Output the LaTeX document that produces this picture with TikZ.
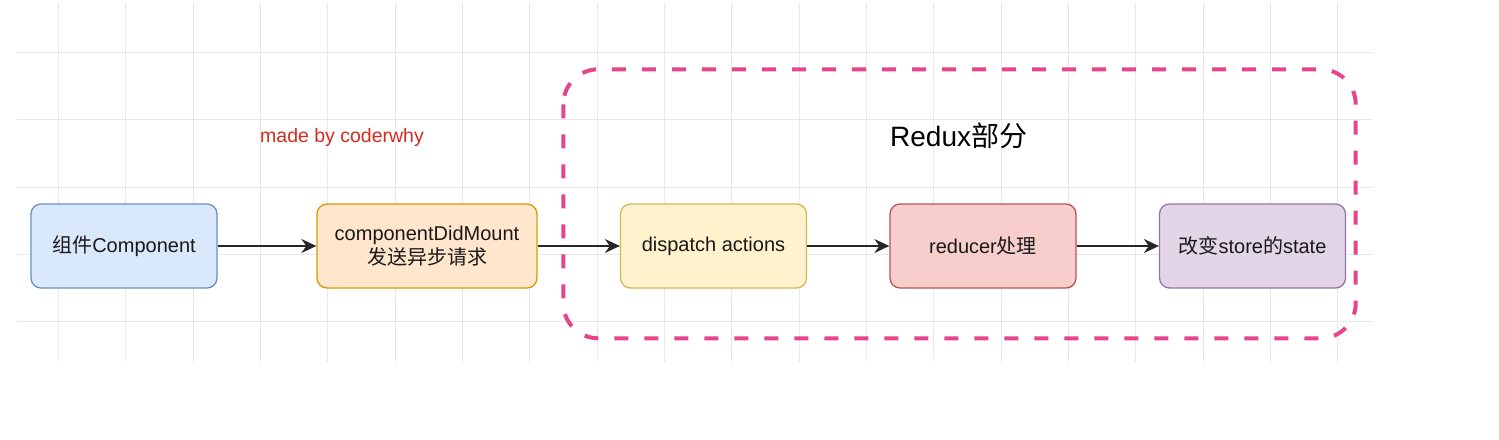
\documentclass[tikz,border=0pt]{standalone}
\usepackage{fontspec}
\setmainfont{Liberation Sans}
\newfontfamily\cjk{Noto Sans CJK SC}
\usetikzlibrary{arrows.meta}

\definecolor{gridgray}{HTML}{E8E8E8}
\definecolor{bluefill}{HTML}{DAE8FC}\definecolor{bluedraw}{HTML}{6C8EBF}
\definecolor{orangefill}{HTML}{FFE6CC}\definecolor{orangedraw}{HTML}{D79B00}
\definecolor{yellowfill}{HTML}{FFF2CC}\definecolor{yellowdraw}{HTML}{D6B656}
\definecolor{redfill}{HTML}{F8CECC}\definecolor{reddraw}{HTML}{B85450}
\definecolor{purplefill}{HTML}{E1D5E7}\definecolor{purpledraw}{HTML}{9673A6}
\definecolor{reduxpink}{HTML}{E6458B}
\definecolor{credred}{HTML}{D62A1E}

\tikzset{
  flowbox/.style={draw, rounded corners=10pt, line width=1.3pt,
    minimum width=186pt, minimum height=84pt, align=center,
    font=\fontsize{20}{24}\selectfont, text=black!90},
  flowarrow/.style={line width=1.6pt, draw=black!85,
    -{Stealth[length=15pt,width=14pt,inset=5pt]}}
}

\begin{document}
\begin{tikzpicture}[x=1pt,y=-1pt]
\useasboundingbox (0,0) rectangle (1499,439);

% background grid
\foreach \i in {0,...,19}
  \draw[gridgray, line width=1pt] (58.3+67.35*\i,3) -- (58.3+67.35*\i,362);
\foreach \j in {0,...,4}
  \draw[gridgray, line width=1pt] (17,52.3+67.35*\j) -- (1373,52.3+67.35*\j);

% redux group
\draw[reduxpink, line width=4pt, rounded corners=35pt, dash pattern=on 14pt off 16pt]
  (563.3,69.3) rectangle (1355.7,338.3);
\node (redux) at (890,146) [anchor=base west, inner xsep=0pt, font=\fontsize{28}{32}\selectfont] {Redux{\cjk 部分}};

\node (credit) at (260,142) [anchor=base west, inner xsep=0pt, text=credred, font=\fontsize{19.5}{24}\selectfont] {made by coderwhy};

% steps
\node (comp) at (124,246) [flowbox, fill=bluefill, draw=bluedraw] {{\cjk 组件}Component};
\node (mount) at (427,246) [flowbox, minimum width=220pt, fill=orangefill, draw=orangedraw] {componentDidMount\\{\cjk 发送异步请求}};
\node (dispatch) at (713.5,246) [flowbox, fill=yellowfill, draw=yellowdraw] {dispatch actions};
\node (reducer) at (983,246) [flowbox, fill=redfill, draw=reddraw] {reducer{\cjk 处理}};
\node (store) at (1252.5,246) [flowbox, fill=purplefill, draw=purpledraw] {{\cjk 改变}store{\cjk 的}state};

\draw[flowarrow]
(comp) to (mount);
\draw[flowarrow]
(mount) to (dispatch);
\draw[flowarrow]
(dispatch) to (reducer);
\draw[flowarrow]
(reducer) to (store);
\end{tikzpicture}
\end{document}
